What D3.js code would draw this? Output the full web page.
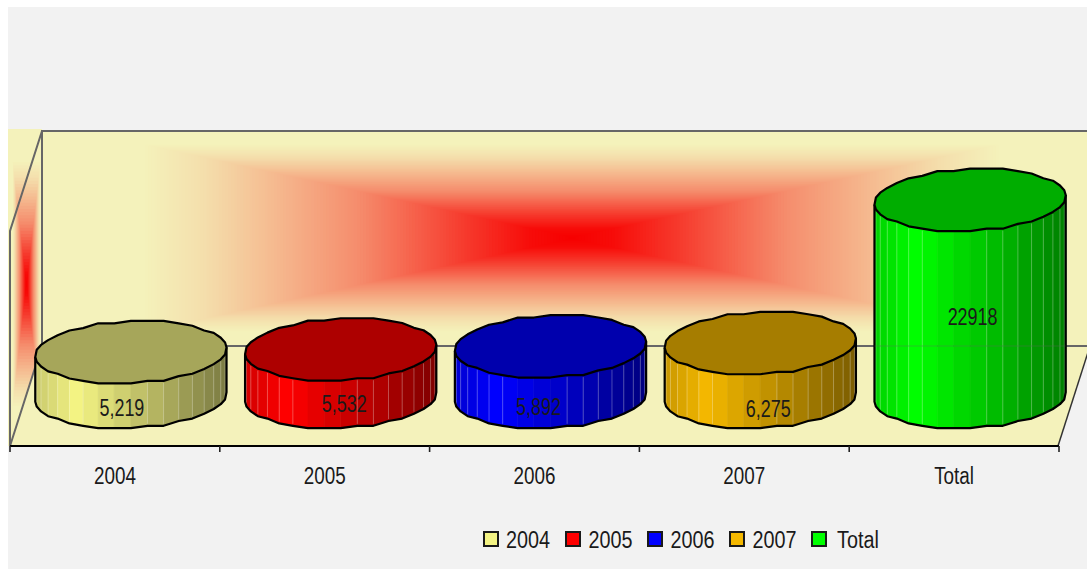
<!DOCTYPE html>
<html><head><meta charset="utf-8">
<script src="https://cdn.jsdelivr.net/npm/d3@7/dist/d3.min.js"></script>
<style>html,body{margin:0;padding:0;background:#fff;overflow:hidden}svg{display:block}
text{font-family:"Liberation Sans",sans-serif;fill:#1a1a1a}</style>
</head><body><svg id="c" width="1087" height="569"></svg>
<script>
const categories = ["2004","2005","2006","2007","Total"];
const values = [5219,5532,5892,6275,22918];
const labels = ["5,219","5,532","5,892","6,275","22918"];
const baseColors = ["#f4f484","#ff0000","#0000ff","#f4b800","#00ff00"];
const yDomain = [0,25000];

const svg = d3.select("#c");
const beige = "#f4f2bb", panel = "#f2f2f2", wallLine = "#666";
svg.append("rect").attr("x",8).attr("y",7).attr("width",1079).attr("height",562).attr("fill",panel);

const x = d3.scaleBand().domain(categories).range([10,1059]);
const y = d3.scaleLinear().domain(yDomain).range([397,182]);
const mix = d3.interpolateRgb(beige,"#f70000");
const falloff = d3.scaleLinear().domain([0,.1,.26,.5,.72,.86,1]).range([1,.95,.75,.42,.21,.08,0]);

function narrow(sel,k){
  sel.each(function(){
    const w=this.getComputedTextLength();
    d3.select(this).attr("textLength",w*k).attr("lengthAdjust","spacingAndGlyphs");
  });
}
function pathGradient(g,X0,Y0,W0,H0,cx,cy,W,H,steps){
  g.append("rect").attr("x",X0).attr("y",Y0).attr("width",W0).attr("height",H0).attr("fill",beige);
  const clipId="clip"+Math.round(X0);
  svg.append("clipPath").attr("id",clipId).append("rect").attr("x",X0).attr("y",Y0).attr("width",W0).attr("height",H0);
  g.append("g").attr("clip-path",`url(#${clipId})`).selectAll("rect").data(d3.range(steps,0,-1)).join("rect")
    .attr("x",d=>cx-W*d/steps).attr("y",d=>cy-H*d/steps)
    .attr("width",d=>2*W*d/steps).attr("height",d=>2*H*d/steps)
    .attr("fill",d=>mix(falloff(d/steps)));
}
pathGradient(svg.append("g"),8,129,34,317,26.5,284,14,125,40);
pathGradient(svg.append("g"),42,131,1045,215,572,238,430,94,140);
svg.append("polygon").attr("points","10,446 42,346 1090,346 1058,446").attr("fill",beige);
svg.append("path").attr("fill","none").attr("stroke",wallLine).attr("stroke-width",2)
  .attr("d","M1087,131H42V346H1087M42,131L10,231V446L42,346");
svg.append("path").attr("fill","none").attr("stroke","#333").attr("stroke-width",1.5).attr("d","M1058,446L1090,346");

const axisG = svg.append("g").attr("transform","translate(0,446)")
  .call(d3.axisBottom(x).tickSize(0).tickPadding(22));
axisG.attr("font-family",null);
axisG.select(".domain").attr("stroke","#000").attr("stroke-width",2).attr("d","M10,0H1059");
axisG.selectAll("text").attr("font-size",23).call(narrow,.82);
const edges = categories.map(c=>x(c)).concat([x.range()[1]]);
axisG.selectAll("line.t").data(edges).join("line").attr("class","t")
  .attr("x1",d=>d).attr("x2",d=>d).attr("y1",0).attr("y2",6).attr("stroke","#222").attr("stroke-width",1.6);

const rx=95.5, ry=31, shear=5, tilt=2, N=36, barShift=16;
const t0=-Math.atan(shear/rx);
const snap=v=>Math.round(v/2.4)*2.4;
function ring(cx,cy){
  return d3.range(N).map(i=>{
    const t=t0+i*2*Math.PI/N;
    return [cx+rx*Math.cos(t)-shear*Math.sin(t), cy+snap(ry*Math.sin(t)-tilt*Math.cos(t))];
  });
}
const line=d3.line();
const labelDx=[-9,3.5,-12,8,2.5], labelY=[408,404,407,409,317];
categories.forEach((c,i)=>{
  const cx=x(c)+x.bandwidth()/2+barShift, top=y(values[i]), bot=y(0);
  const base=d3.rgb(baseColors[i]);
  const g=svg.append("g");
  const R=ring(cx,top), F=d3.range(0,N/2+1).map(k=>R[k%N]);
  const shade=u=>u<.22?.82+.18*u/.22:1-.5*(u-.22)/.78;
  const strips=d3.pairs(F).reverse();
  const col=([a,b])=>{const u=((a[0]+b[0])/2-(cx-rx))/(2*rx),f=shade(u);
      return d3.rgb(base.r*f,base.g*f,base.b*f).formatHex();};
  g.selectAll("path.s").data(strips).join("path").attr("class","s")
   .attr("d",([a,b])=>line([a,b,[b[0],b[1]+bot-top],[a[0],a[1]+bot-top]])+"Z")
   .attr("fill",col).attr("stroke",col).attr("stroke-width",.6);
  g.selectAll("line.m").data(F.slice(1,-1).filter(p=>{const u=(p[0]-(cx-rx))/(2*rx);return u<.3||u>.58;})).join("line").attr("class","m")
   .attr("x1",p=>p[0]).attr("x2",p=>p[0]).attr("y1",p=>p[1]+2).attr("y2",p=>p[1]+bot-top-2)
   .attr("stroke","#fff").attr("stroke-opacity",.28).attr("stroke-width",1);
  const B=F.map(p=>[p[0],p[1]+bot-top]);
  g.append("path").attr("d",line([F[0],...B,F[F.length-1]])).attr("fill","none").attr("stroke","#000").attr("stroke-width",2.2).attr("stroke-linejoin","round");
  g.append("path").attr("d",line(R)+"Z")
   .attr("fill",d3.rgb(base.r*.68,base.g*.68,base.b*.68).formatHex())
   .attr("stroke","#000").attr("stroke-width",2.2).attr("stroke-linejoin","round");
  if(top<346-ry) g.append("line").attr("x1",cx-rx).attr("x2",cx+rx).attr("y1",346).attr("y2",346).attr("stroke",wallLine).attr("stroke-opacity",.18).attr("stroke-width",2);
  svg.append("text").attr("x",cx+labelDx[i]).attr("y",labelY[i]+8).attr("text-anchor","middle").attr("font-size",23).text(labels[i]).call(narrow,.78);
});

const legendX=[484,566,648,730,812], legendTx=[506,588.5,670.5,752.5,837];
const lg=svg.append("g");
categories.forEach((c,i)=>{
  lg.append("rect").attr("x",legendX[i]).attr("y",532).attr("width",14).attr("height",14).attr("fill",baseColors[i]).attr("stroke","#1a1a1a").attr("stroke-width",2);
  lg.append("text").attr("x",legendTx[i]).attr("y",548).attr("font-size",23).text(c).call(narrow,.86);
});
</script></body></html>
